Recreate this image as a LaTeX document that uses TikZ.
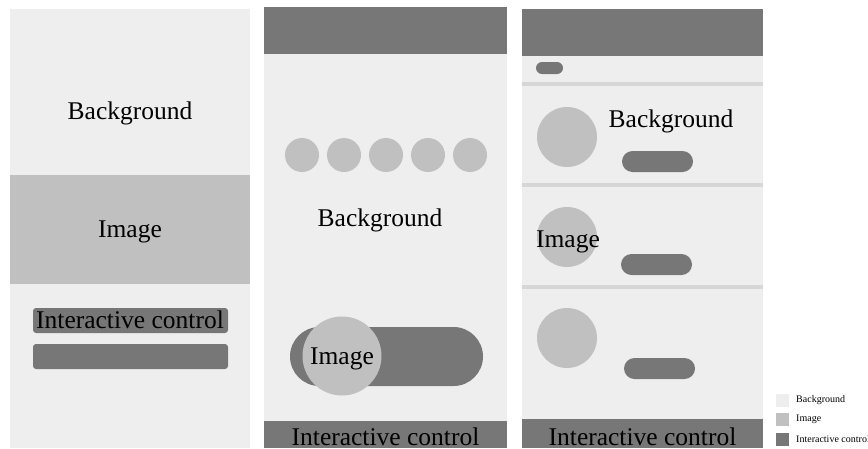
\documentclass[tikz,border=0pt]{standalone}
\usepackage{fontspec}
\setmainfont{Liberation Serif}
\definecolor{bgcol}{HTML}{EEEEEE}
\definecolor{imgcol}{HTML}{C0C0C0}
\definecolor{ctrlcol}{HTML}{777777}
\definecolor{sepcol}{HTML}{D6D6D6}
\tikzstyle{every node}=[font=\fontsize{25.5}{28}\selectfont, inner sep=0pt]
\tikzstyle{bgfill}=[fill=bgcol]
\tikzstyle{imgfill}=[fill=imgcol]
\tikzstyle{ctrlfill}=[fill=ctrlcol]
\tikzstyle{label}=[anchor=base]
\tikzstyle{legtext}=[anchor=west, font=\fontsize{10}{12}\selectfont]

\begin{document}
\begin{tikzpicture}[x=1pt, y=-1pt]
  \useasboundingbox (0,0) rectangle (868,448);

  % Panel 1: plain layout
  \fill[bgfill] (10,9) rectangle (250,448);
  \fill[imgfill] (10,175) rectangle (250,284);
  \fill[ctrlfill, rounded corners=3pt] (33,308) rectangle (228,333);
  \fill[ctrlfill, rounded corners=3pt] (33,344) rectangle (228,369);
  \node[label] (bgA) at (130,119) {Background};
  \node[label] (imgA) at (130,237) {Image};
  \node[label] (ctrlA) at (130,328) {Interactive control};

  % Panel 2: dots and toggle
  \fill[bgfill] (264,54) rectangle (507,421);
  \fill[ctrlfill] (264,7) rectangle (507,54);
  \fill[ctrlfill] (264,421) rectangle (507,448);
  \foreach \cx in {302,344,386,428,470}
    \fill[imgfill] (\cx,155) circle[radius=17];
  \fill[ctrlfill, rounded corners=29.5pt] (290,327) rectangle (483,386);
  \fill[imgfill] (342,356) circle[radius=39.5];
  \node[label] (bgB) at (380,226) {Background};
  \node[label] (imgB) at (342,364) {Image};
  \node[label] (ctrlB) at (385.5,445) {Interactive control};

  % Panel 3: list
  \fill[bgfill] (522,56) rectangle (763,419);
  \fill[ctrlfill] (522,9) rectangle (763,56);
  \fill[ctrlfill] (522,419) rectangle (763,448);
  \fill[ctrlfill, rounded corners=6pt] (536,62) rectangle (563,74);
  \foreach \sy in {84,185,287}
    \fill[sepcol] (522,\sy-1.7) rectangle (763,\sy+1.7);
  \foreach \ry/\px/\py in {137/622/151, 237/621/254, 338/624/358} {
    \fill[imgfill] (567,\ry) circle[radius=30];
    \fill[ctrlfill, rounded corners=10.5pt] (\px,\py) rectangle (\px+71,\py+21);
  }
  \node[label] (bgC) at (671,127) {Background};
  \node[label] (imgC) at (568,247) {Image};
  \node[label] (ctrlC) at (642.5,445) {Interactive control};

  % Legend
  \fill[bgfill] (776,393.5) rectangle (789,406.5);
  \fill[imgfill] (776,413) rectangle (789,426);
  \fill[ctrlfill] (776,433) rectangle (789,446);
  \node[legtext] (legbg) at (796,400) {Background};
  \node[legtext] (legimg) at (796,419.5) {Image};
  \node[legtext] (legctrl) at (796,439.5) {Interactive control};
\end{tikzpicture}
\end{document}
